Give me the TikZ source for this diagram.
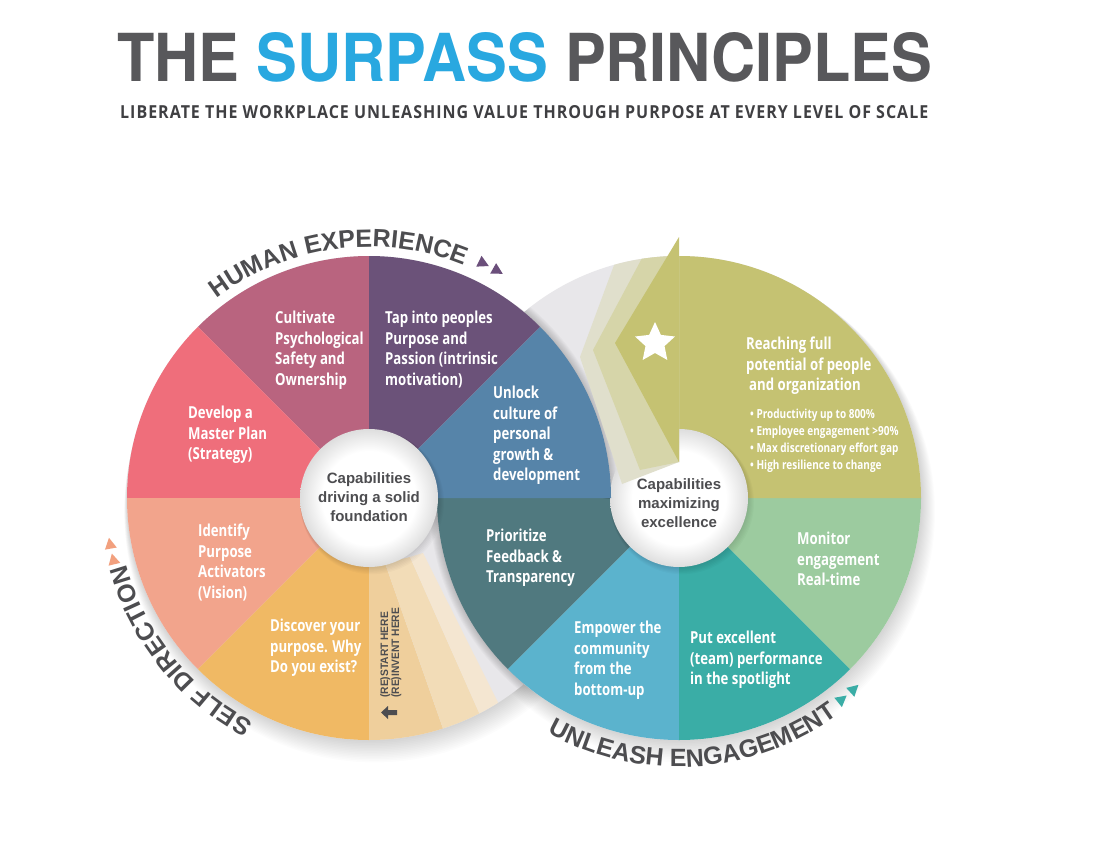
\documentclass[tikz,border=0pt]{standalone}
\usepackage{fontspec}
\usepackage{graphicx}
\usetikzlibrary{calc,shapes.geometric,decorations.text}
\setmainfont{Liberation Sans}
\newfontfamily\segfont[FakeStretch=0.8]{Open Sans}
\newfontfamily\subfont[FakeStretch=0.8,LetterSpace=5]{Open Sans}
\newfontfamily\titlefont{TeX Gyre Heros}
\newfontfamily\capfont{Liberation Sans}
\newfontfamily\narrowfont[FakeStretch=0.95]{Liberation Sans}

\definecolor{titlegrey}{HTML}{58585B}
\definecolor{surpassblue}{HTML}{29A8E0}
\definecolor{subgrey}{HTML}{3F3F42}
\definecolor{txtgrey}{HTML}{4D4D50}
\definecolor{basegrey}{HTML}{E8E7EA}
\definecolor{cultivatec}{HTML}{B9647F}
\definecolor{developc}{HTML}{EF6E7B}
\definecolor{identifyc}{HTML}{F2A48C}
\definecolor{discoverc}{HTML}{F0B964}
\definecolor{tapc}{HTML}{6B5279}
\definecolor{unlockc}{HTML}{5684A9}
\definecolor{prioc}{HTML}{50797F}
\definecolor{empowerc}{HTML}{5BB3CD}
\definecolor{putc}{HTML}{3AADA6}
\definecolor{monitorc}{HTML}{9CCB9F}
\definecolor{olivec}{HTML}{C5C272}
\definecolor{oliveA}{HTML}{D6D5A9}
\definecolor{oliveB}{HTML}{E0DFCC}
\definecolor{tanA}{HTML}{EFCF9C}
\definecolor{tanB}{HTML}{F2DCB7}
\definecolor{tanC}{HTML}{F4E6D1}
\definecolor{tripurple}{HTML}{6B4F7B}
\definecolor{trisalmon}{HTML}{F2A07E}
\definecolor{triteal}{HTML}{3AADA6}

\pgfdeclareradialshading{rimshade}{\pgfpoint{0bp}{0bp}}{color(0bp)=(white); color(17bp)=(white); color(25bp)=(black!13); color(50bp)=(black!13)}

\newcommand\wedgefill[4]{\fill[#1] (#2) -- ++(#3:242) arc[start angle=#3, end angle=#4, radius=242] -- cycle;}
\newcommand\arcfont{\capfont\bfseries\fontsize{25}{25}\selectfont\color{txtgrey}}

\begin{document}
\begin{tikzpicture}[x=1pt,y=1pt,
  seg/.style={font=\segfont\bfseries\fontsize{16.5}{20.5}\selectfont, text=white, align=left, anchor=north west, inner sep=0pt},
  bullets/.style={font=\segfont\bfseries\fontsize{12.5}{16.8}\selectfont, text=white, align=left, anchor=north west, inner sep=0pt},
  captext/.style={font=\capfont\bfseries\fontsize{15}{18.7}\selectfont, text=txtgrey, align=center, inner sep=0pt}]
\useasboundingbox (0,0) rectangle (1101,-848);
\fill[white] (0,0) rectangle (1101,-848);
\coordinate (CL) at (369,-498);
\coordinate (CR) at (679,-498);

% outer soft shadows
\foreach \i in {1,...,14}{
  \fill[black,opacity=0.012] ($(CL)+(0.4*\i,-1.0*\i)$) circle[radius=242+0.6*\i];
  \fill[black,opacity=0.012] ($(CR)+(0.4*\i,-1.0*\i)$) circle[radius=242+0.6*\i];
}

% base disks
\fill[basegrey] (CL) circle[radius=242];
\fill[basegrey] (CR) circle[radius=242];

% left wheel, left half
\wedgefill{cultivatec}{CL}{90}{135}
\wedgefill{developc}{CL}{135}{180}
\wedgefill{identifyc}{CL}{180}{225}
\wedgefill{discoverc}{CL}{225}{270}

% fading (re)start bands
\begin{scope}
  \clip (CL) circle[radius=242];
  \fill[tanA] (369,-498) -- (369,-760) -- (454,-760) -- (385,-563) -- cycle;
  \fill[tanB] (385,-563) -- (454,-760) -- (500,-760) -- (410,-557) -- cycle;
  \fill[tanC] (410,-557) -- (500,-760) -- (527,-760) -- (423,-553) -- cycle;
\end{scope}

% shadow of right wheel on the left wheel
\begin{scope}
  \clip (CL) circle[radius=242];
  \clip (300,-498) rectangle (700,-800);
  \foreach \w in {2,4,...,16} \draw[black,opacity=0.022,line width=\w pt] (CR) circle[radius=242];
\end{scope}

% right wheel sectors
\wedgefill{prioc}{CR}{180}{225}
\wedgefill{empowerc}{CR}{225}{270}
\wedgefill{putc}{CR}{270}{315}
\wedgefill{monitorc}{CR}{315}{360}
\wedgefill{olivec}{CR}{0}{90}

% shadow of left wheel on the right wheel
\begin{scope}
  \clip (CR) circle[radius=242];
  \clip (400,-200) rectangle (700,-498);
  \foreach \w in {2,4,...,16} \draw[black,opacity=0.022,line width=\w pt] (CL) circle[radius=242];
\end{scope}

% right inner circle
\foreach \i in {1,...,6} \fill[black,opacity=0.02] ($(CR)+(0.5*\i,-0.7*\i)$) circle[radius=69+0.5*\i];
\shade[shading=rimshade] (CR) circle[radius=69];

% chevron bands of the arrow
\begin{scope}
  \clip (CR) circle[radius=242];
  \fill[oliveB] (679,-200) -- (637,-203) -- (580,-357) -- (622,-484) -- (679,-462) -- cycle;
  \fill[oliveA] (679,-200) -- (673,-200) -- (593,-350) -- (640,-470) -- (679,-462) -- cycle;
\end{scope}
\fill[olivec] (679,-237) -- (615,-343) -- (679,-462) -- cycle;
\node[star, star points=5, star point ratio=2.1, fill=white, minimum size=42pt, inner sep=0pt] (star) at (655,-343) {};

% left wheel, upper right quarter (on top)
\wedgefill{tapc}{CL}{45}{90}
\wedgefill{unlockc}{CL}{0}{45}

% left inner circle
\foreach \i in {1,...,6} \fill[black,opacity=0.02] ($(CL)+(0.5*\i,-0.7*\i)$) circle[radius=69+0.5*\i];
\shade[shading=rimshade] (CL) circle[radius=69];

% title
\node[anchor=south west, inner sep=0pt] (title) at (117,-82)
  {\resizebox{815pt}{49pt}{\titlefont\bfseries\color{titlegrey}THE \textcolor{surpassblue}{SURPASS} PRINCIPLES}};
\node[anchor=south west, inner sep=0pt] (subtitle) at (120,-119)
  {\resizebox{808pt}{13pt}{\subfont\bfseries\color{subgrey}LIBERATE THE WORKPLACE UNLEASHING VALUE THROUGH PURPOSE AT EVERY LEVEL OF SCALE}};

% segment texts
\node[seg] (cult) at (275,-311) {Cultivate\\Psychological\\Safety and\\Ownership};
\node[seg] (tap) at (385,-311) {Tap into peoples\\Purpose and\\Passion (intrinsic\\motivation)};
\node[seg] (dev) at (188,-406) {Develop a\\Master Plan\\(Strategy)};
\node[seg] (unlock) at (493,-386) {Unlock\\culture of\\personal\\growth \&\\development};
\node[seg] (ident) at (198,-524) {Identify\\Purpose\\Activators\\(Vision)};
\node[seg] (disc) at (270,-619) {Discover your\\purpose. Why\\Do you exist?};
\node[seg] (prio) at (486,-529) {Prioritize\\Feedback \&\\Transparency};
\node[seg] (emp) at (574,-621) {Empower the\\community\\from the\\bottom-up};
\node[seg] (put) at (690,-631) {Put excellent\\(team) performance\\in the spotlight};
\node[seg] (mon) at (797,-532) {Monitor\\engagement\\Real-time};
\node[seg] (reach) at (746,-337) {Reaching full\\potential of people\\\hspace{3pt}and organization};
\node[bullets] (bul) at (750,-409) {• Productivity up to 800\%\\• Employee engagement >90\%\\• Max discretionary effort gap\\• High resilience to change};

% inner circle texts
\node[captext] (capl) at (369,-497) {Capabilities\\driving a solid\\foundation};
\node[captext] (capr) at (679,-503) {Capabilities\\maximizing\\excellence};

% (re)start here
\node[rotate=90, anchor=north west, align=left, inner sep=0pt, text=txtgrey,
  font=\narrowfont\bfseries\fontsize{10.8}{10}\selectfont] (restart) at (380,-698) {(RE)START HERE\\(RE)INVENT HERE};
\fill[txtgrey] (381,-712.5) -- (388,-706) -- (388,-710) -- (397,-710) -- (397,-715) -- (388,-715) -- (388,-719) -- cycle;

% curved labels
\path[decorate, decoration={text along path, text align=center, text={|\arcfont|HUMAN EXPERIENCE}}]
  ($(CL)+(142.5:251)$) arc[start angle=142.5, end angle=52.5, radius=251];
\path[decorate, decoration={text along path, text align=center, text={|\arcfont|SELF DIRECTION}}]
  ($(CL)+(264:252)$) arc[start angle=264, end angle=174, radius=252];
\path[decorate, decoration={text along path, text align=center, text={|\arcfont|UNLEASH ENGAGEMENT}}]
  ($(CR)+(221:269)$) arc[start angle=221, end angle=326, radius=269];

% direction triangles
\foreach \a in {64,60.5}
  \fill[tripurple, shift={($(CL)+(\a:261)$)}, rotate=\a-90] (6,0) -- (-5,6) -- (-5,-6) -- cycle;
\foreach \a in {193.5,190}
  \fill[trisalmon, shift={($(CL)+(\a:263)$)}, rotate=\a-90] (6,0) -- (-5,6) -- (-5,-6) -- cycle;
\foreach \a in {309,312.5}
  \fill[triteal, shift={($(CR)+(\a:259)$)}, rotate=\a+90] (6,0) -- (-5,6) -- (-5,-6) -- cycle;
\end{tikzpicture}
\end{document}
